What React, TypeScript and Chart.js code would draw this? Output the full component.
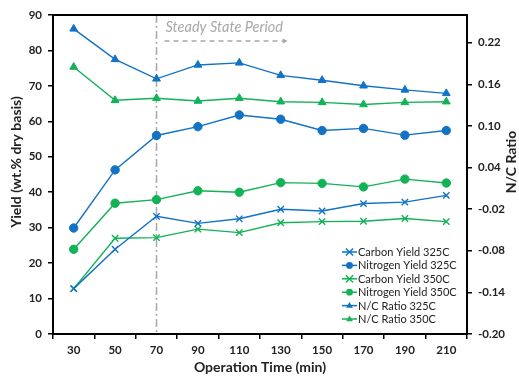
import React, { useEffect, useRef } from "react";
import { Chart, registerables } from "chart.js";

Chart.register(...registerables);

const categories = ["30", "50", "70", "90", "110", "130", "150", "170", "190", "210"];
const carbon325 = [12.8, 23.9, 33.2, 31.2, 32.5, 35.2, 34.7, 36.8, 37.2, 39.1];
const nitrogen325 = [29.9, 46.3, 56.0, 58.5, 61.8, 60.6, 57.4, 58.0, 56.1, 57.4];
const carbon350 = [12.8, 27.0, 27.2, 29.6, 28.6, 31.4, 31.7, 31.8, 32.6, 31.7];
const nitrogen350 = [23.9, 36.9, 37.9, 40.4, 40.0, 42.7, 42.5, 41.5, 43.7, 42.6];
const ratio325 = [0.240, 0.196, 0.168, 0.188, 0.191, 0.173, 0.166, 0.158, 0.152, 0.147];
const ratio350 = [0.185, 0.137, 0.140, 0.136, 0.140, 0.135, 0.134, 0.131, 0.134, 0.135];
const rightTicks = [-0.2, -0.14, -0.08, -0.02, 0.04, 0.1, 0.16, 0.22];
const steadyIndex = 2;

const BLUE = "#1272C6";
const GREEN = "#12B256";
const FONT = "Lato";

function drawMarker(ctx: CanvasRenderingContext2D, style: string, x: number, y: number, r: number, color: string) {
  ctx.save();
  ctx.fillStyle = color;
  ctx.strokeStyle = color;
  ctx.lineWidth = 1.4;
  ctx.beginPath();
  if (style === "circle") {
    ctx.arc(x, y, r, 0, Math.PI * 2);
    ctx.fill();
  } else if (style === "triangle") {
    ctx.moveTo(x, y - r);
    ctx.lineTo(x + r * 0.95, y + r * 0.6);
    ctx.lineTo(x - r * 0.95, y + r * 0.6);
    ctx.closePath();
    ctx.fill();
  } else {
    ctx.moveTo(x - r, y - r);
    ctx.lineTo(x + r, y + r);
    ctx.moveTo(x + r, y - r);
    ctx.lineTo(x - r, y + r);
    ctx.stroke();
  }
  ctx.restore();
}

const overlay = {
  id: "overlay",
  beforeDatasetsDraw(chart: any) {
    const { ctx, chartArea } = chart;
    const xs = chart.scales.x;
    const x = xs.getPixelForValue(steadyIndex);
    ctx.save();
    ctx.strokeStyle = "#A8A8A8";
    ctx.lineWidth = 1.5;
    ctx.setLineDash([8, 3, 2, 3]);
    ctx.beginPath();
    ctx.moveTo(x, chartArea.top);
    ctx.lineTo(x, chartArea.bottom);
    ctx.stroke();
    // arrow
    const x0 = x + 8;
    const x1 = xs.getPixelForValue(5) + 2;
    const ay = chartArea.top + 26;
    ctx.setLineDash([5, 4]);
    ctx.beginPath();
    ctx.moveTo(x0, ay);
    ctx.lineTo(x1, ay);
    ctx.stroke();
    ctx.setLineDash([]);
    ctx.fillStyle = "#A8A8A8";
    ctx.beginPath();
    ctx.moveTo(x1 + 5, ay);
    ctx.lineTo(x1, ay - 2.5);
    ctx.lineTo(x1, ay + 2.5);
    ctx.closePath();
    ctx.fill();
    ctx.font = `italic 14.5px ${FONT}`;
    ctx.textAlign = "left";
    ctx.textBaseline = "middle";
    ctx.fillText("Steady State Period", x + 9, chartArea.top + 12);
    ctx.restore();
  },
  afterDraw(chart: any) {
    const { ctx, chartArea } = chart;
    ctx.save();
    ctx.strokeStyle = "#000";
    ctx.lineWidth = 2;
    ctx.strokeRect(chartArea.left, chartArea.top, chartArea.right - chartArea.left, chartArea.bottom - chartArea.top);
    // legend
    const lx = chartArea.right - 125;
    let ly = chartArea.bottom - 82;
    ctx.font = `11px ${FONT}`;
    ctx.textBaseline = "middle";
    ctx.textAlign = "left";
    chart.data.datasets.forEach((ds: any) => {
      ctx.strokeStyle = ds.borderColor;
      ctx.lineWidth = 1.5;
      ctx.beginPath();
      ctx.moveTo(lx, ly);
      ctx.lineTo(lx + 15, ly);
      ctx.stroke();
      drawMarker(ctx, ds.pointStyle === "crossRot" ? "cross" : ds.pointStyle, lx + 7.5, ly, ds.pointStyle === "circle" ? 3.4 : 3.6, ds.borderColor);
      ctx.fillStyle = "#222";
      ctx.fillText(ds.label, lx + 16, ly + 0.5);
      ly += 13.4;
    });
    // axis titles
    ctx.fillStyle = "#222";
    ctx.font = `bold 14px ${FONT}`;
    ctx.textAlign = "center";
    ctx.textBaseline = "middle";
    ctx.fillText("Operation Time (min)", (chartArea.left + chartArea.right) / 2, 367);
    ctx.save();
    ctx.translate(16, 162);
    ctx.rotate(-Math.PI / 2);
    ctx.fillText("Yield (wt.% dry basis)", 0, 0);
    ctx.restore();
    ctx.save();
    ctx.translate(511, 162);
    ctx.rotate(-Math.PI / 2);
    ctx.fillText("N/C Ratio", 0, 0);
    ctx.restore();
    ctx.restore();
  },
};

export default function App() {
  const ref = useRef<HTMLCanvasElement>(null);
  useEffect(() => {
    if (!ref.current) return;
    const mk = (label: string, data: number[], color: string, style: string, axis: string) => ({
      label,
      data,
      borderColor: color,
      backgroundColor: color,
      pointStyle: style,
      pointRadius: style === "circle" ? 4.2 : 4.5,
      pointBorderWidth: style === "crossRot" ? 1.4 : 1,
      borderWidth: 1.4,
      yAxisID: axis,
      tension: 0,
    });
    const tickFont = { family: FONT, size: 11.5, weight: "bold" as const };
    const chart = new Chart(ref.current, {
      type: "line",
      data: {
        labels: categories,
        datasets: [
          mk("Carbon Yield 325C", carbon325, BLUE, "crossRot", "y"),
          mk("Nitrogen Yield 325C", nitrogen325, BLUE, "circle", "y"),
          mk("Carbon Yield 350C", carbon350, GREEN, "crossRot", "y"),
          mk("Nitrogen Yield 350C", nitrogen350, GREEN, "circle", "y"),
          mk("N/C Ratio 325C", ratio325, BLUE, "triangle", "y2"),
          mk("N/C Ratio 350C", ratio350, GREEN, "triangle", "y2"),
        ] as any,
      },
      plugins: [overlay],
      options: {
        animation: false,
        responsive: true,
        maintainAspectRatio: false,
        layout: { padding: { top: 15, left: 0, right: 0, bottom: 0 } },
        plugins: { legend: { display: false }, tooltip: { enabled: false } },
        scales: {
          x: {
            offset: true,
            grid: { offset: true, drawOnChartArea: false, color: "#000", tickLength: 5, lineWidth: 1.5 },
            border: { color: "#000", width: 2 },
            ticks: { font: tickFont, color: "#222", padding: 4, maxRotation: 0, autoSkip: false },
            afterFit: (s: any) => { s.height = 42; },
          },
          y: {
            position: "left",
            min: 0,
            max: 90,
            ticks: { stepSize: 10, font: tickFont, color: "#222", padding: 6 },
            grid: { drawOnChartArea: false, color: "#000", tickLength: 5, lineWidth: 1.5 },
            border: { color: "#000", width: 2 },
            afterFit: (s: any) => { s.width = 53; },
          },
          y2: {
            position: "right",
            min: -0.2,
            max: 0.26,
            afterBuildTicks: (s: any) => { s.ticks = rightTicks.map((v) => ({ value: v })); },
            ticks: { font: tickFont, color: "#222", padding: 6, callback: (v: any) => Number(v).toFixed(2) },
            grid: { drawOnChartArea: false, color: "#000", tickLength: 5, lineWidth: 1.5 },
            border: { color: "#000", width: 2 },
            afterFit: (s: any) => { s.width = 52; },
          },
        },
      } as any,
    });
    return () => chart.destroy();
  }, []);
  return (
    <div style={{ position: "fixed", left: 0, top: 0, width: 519, height: 376, background: "#fff" }}>
      <canvas ref={ref} />
    </div>
  );
}
